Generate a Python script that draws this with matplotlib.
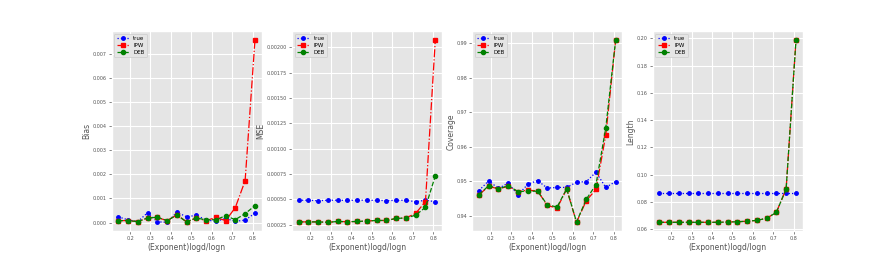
import numpy as np
import matplotlib
matplotlib.use("Agg")
from matplotlib import pyplot as plt

plt.style.use("ggplot")

# x positions (logd/logn)
x = [0.143, 0.190, 0.238, 0.286, 0.333, 0.381, 0.429, 0.476,
     0.524, 0.571, 0.619, 0.667, 0.714, 0.762, 0.810]

# Bias
bias_true = [0.00024, 0.00011, 0.00004, 0.00041, 0.00003, 0.00001, 0.00043, 0.00024,
             0.00030, 0.00011, 0.00005, 0.00017, 0.00005, 0.00010, 0.00039]
bias_ipw = [0.00008, 0.00008, 0.00004, 0.00019, 0.00021, 0.00008, 0.00032, 0.00003,
            0.00019, 0.00008, 0.00021, 0.00008, 0.00062, 0.00174, 0.00758]
bias_deb = [0.00008, 0.00008, 0.00004, 0.00019, 0.00022, 0.00008, 0.00031, 0.00003,
            0.00019, 0.00011, 0.00012, 0.00028, 0.00012, 0.00037, 0.00070]

# MSE
mse_true = [0.000490, 0.000490, 0.000485, 0.000490, 0.000490, 0.000488, 0.000490, 0.000490,
            0.000488, 0.000487, 0.000488, 0.000490, 0.000475, 0.000490, 0.000475]
mse_ipw = [0.000276, 0.000276, 0.000276, 0.000272, 0.000280, 0.000278, 0.000280, 0.000285,
           0.000290, 0.000290, 0.000310, 0.000315, 0.000360, 0.000476, 0.002070]
mse_deb = [0.000276, 0.000276, 0.000276, 0.000272, 0.000280, 0.000278, 0.000280, 0.000285,
           0.000290, 0.000290, 0.000310, 0.000315, 0.000342, 0.000420, 0.000730]

# Coverage
cov_true = [0.9473, 0.9501, 0.9479, 0.9495, 0.9460, 0.9491, 0.9502, 0.9480,
            0.9482, 0.9482, 0.9497, 0.9499, 0.9526, 0.9482, 0.9499]
cov_ipw = [0.9461, 0.9485, 0.9478, 0.9485, 0.9470, 0.9474, 0.9472, 0.9430,
           0.9422, 0.9477, 0.9381, 0.9444, 0.9476, 0.9634, 0.9908]
cov_deb = [0.9461, 0.9487, 0.9478, 0.9487, 0.9470, 0.9471, 0.9471, 0.9432,
           0.9425, 0.9478, 0.9382, 0.9448, 0.9490, 0.9655, 0.9908]

# Length
len_true = [0.0866] * 15
len_ipw = [0.0650, 0.0650, 0.0650, 0.0650, 0.0650, 0.0650, 0.0650, 0.0652,
           0.0654, 0.0658, 0.0664, 0.0680, 0.0722, 0.0895, 0.1985]
len_deb = [0.0650, 0.0650, 0.0650, 0.0650, 0.0650, 0.0650, 0.0650, 0.0652,
           0.0654, 0.0658, 0.0664, 0.0680, 0.0722, 0.0895, 0.1985]

panels = [("Bias", bias_true, bias_ipw, bias_deb),
          ("MSE", mse_true, mse_ipw, mse_deb),
          ("Coverage", cov_true, cov_ipw, cov_deb),
          ("Length", len_true, len_ipw, len_deb)]

fig, axes = plt.subplots(1, 4, figsize=(8.92, 2.6), dpi=100)

for ax, (name, yt, yi, yd) in zip(axes, panels):
    ax.plot(x, yt, 'b:', marker='o', markersize=2.5, linewidth=0.9, label="true")
    ax.plot(x, yi, 'r-.', marker='s', markersize=3, linewidth=0.9, label="IPW")
    ax.plot(x, yd, 'g--', marker='o', markersize=3, linewidth=0.9, label="DEB")
    ax.set_xlabel("(Exponent)logd/logn", fontsize=5.5, labelpad=1)
    ax.set_ylabel(name, fontsize=5.5, labelpad=1)
    ax.tick_params(labelsize=3.5, length=2, width=0.5, pad=1.5)
    ax.set_xticks([0.2, 0.3, 0.4, 0.5, 0.6, 0.7, 0.8])
    ax.legend(loc="upper left", fontsize=4, handlelength=2.2, borderpad=0.4,
              labelspacing=0.3, facecolor="#e5e5e5", edgecolor="#cccccc", framealpha=1)

axes[0].set_yticks([0.000, 0.001, 0.002, 0.003, 0.004, 0.005, 0.006, 0.007])
axes[1].set_yticks([0.00025, 0.00050, 0.00075, 0.00100, 0.00125, 0.00150, 0.00175, 0.00200])
axes[1].yaxis.set_major_formatter(matplotlib.ticker.FormatStrFormatter('%.5f'))
axes[2].set_yticks([0.94, 0.95, 0.96, 0.97, 0.98, 0.99])
axes[3].set_yticks([0.06, 0.08, 0.10, 0.12, 0.14, 0.16, 0.18, 0.20])

plt.savefig("out.png", dpi=100)
